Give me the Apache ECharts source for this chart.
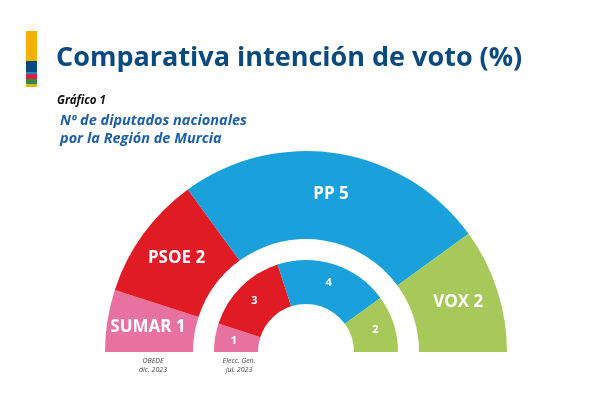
<!DOCTYPE html>
<html>
<head>
<meta charset="utf-8">
<script src="https://cdn.jsdelivr.net/npm/echarts@6/dist/echarts.min.js"></script>
<style>
  html, body { margin: 0; padding: 0; background: #fff; }
  #chart { width: 610px; height: 400px; }
</style>
</head>
<body>
<div id="chart"></div>
<script>
// datos: escaños por partido
var partidos = ['SUMAR', 'PSOE', 'PP', 'VOX'];
var colores = ['#e8729f', '#e01b24', '#1aa0db', '#a6c95a'];
var escanosObede = [1, 2, 5, 2];      // OBEDE dic. 2023
var escanosElecc = [1, 3, 4, 2];      // Elecc. Gen. jul. 2023
var notaObede = 'OBEDE\ndic. 2023';
var notaElecc = 'Elecc. Gen.\njul. 2023';

var font = 'Open Sans';

function datosPie(valores) {
    return valores.map(function (v, i) {
        return { name: partidos[i], value: v, itemStyle: { color: colores[i] } };
    });
}

var myChart = echarts.init(document.getElementById('chart'), null, { renderer: 'canvas' });

var option = {
    animation: false,
    backgroundColor: '#fff',
    title: [{
        text: 'Comparativa intención de voto (%)',
        left: 51, top: 40,
        textStyle: { color: '#0b4a7e', fontFamily: font, fontWeight: 'bold', fontSize: 27 }
    }, {
        text: 'Gráfico 1',
        left: 52, top: 90,
        textStyle: { color: '#111', fontFamily: font, fontWeight: 'bold', fontStyle: 'italic', fontSize: 11.5 }
    }, {
        text: 'Nº de diputados nacionales\npor la Región de Murcia',
        left: 55, top: 107,
        textStyle: { color: '#1d5fa8', fontFamily: font, fontWeight: 'bold', fontStyle: 'italic', fontSize: 14.5, lineHeight: 18 }
    }, {
        text: notaObede,
        left: 148, top: 351, textAlign: 'center',
        textStyle: { color: '#444', fontFamily: font, fontStyle: 'italic', fontWeight: 'normal', fontSize: 7, lineHeight: 9 }
    }, {
        text: notaElecc,
        left: 234, top: 351, textAlign: 'center',
        textStyle: { color: '#444', fontFamily: font, fontStyle: 'italic', fontWeight: 'normal', fontSize: 7, lineHeight: 9 }
    }],
    graphic: [
        // barra de colores a la izquierda del título
        { type: 'rect', shape: { x: 26, y: 31, width: 11, height: 30 }, style: { fill: '#f2b300' } },
        { type: 'rect', shape: { x: 26, y: 61, width: 11, height: 11 }, style: { fill: '#0b4a7e' } },
        { type: 'rect', shape: { x: 26, y: 72, width: 11, height: 2 }, style: { fill: '#2d7fc4' } },
        { type: 'rect', shape: { x: 26, y: 74, width: 11, height: 5 }, style: { fill: '#d8233c' } },
        { type: 'rect', shape: { x: 26, y: 79, width: 11, height: 5 }, style: { fill: '#2e8a4a' } },
        { type: 'rect', shape: { x: 26, y: 84, width: 11, height: 3 }, style: { fill: '#e8b21a' } }
    ],
    series: [{
        name: 'OBEDE',
        type: 'pie',
        silent: true,
        center: [306, 352],
        radius: [113, 201],
        startAngle: 180,
        endAngle: 0,
        clockwise: true,
        avoidLabelOverlap: false,
        itemStyle: { borderWidth: 0 },
        label: {
            show: true,
            position: 'inside',
            formatter: '{b} {c}',
            color: '#fff',
            fontFamily: font,
            fontWeight: 'bold',
            fontSize: 17
        },
        labelLine: { show: false },
        data: datosPie(escanosObede)
    }, {
        name: 'Elecciones',
        type: 'pie',
        silent: true,
        center: [306, 352],
        radius: [48, 92],
        startAngle: 180,
        endAngle: 0,
        clockwise: true,
        avoidLabelOverlap: false,
        itemStyle: { borderWidth: 0 },
        label: {
            show: true,
            position: 'inside',
            formatter: '{c}',
            color: '#fff',
            fontFamily: font,
            fontWeight: 'bold',
            fontSize: 11
        },
        labelLine: { show: false },
        data: datosPie(escanosElecc)
    }]
};

myChart.setOption(option);

window.onresize = function () {
    myChart.resize();
};
</script>
</body>
</html>
